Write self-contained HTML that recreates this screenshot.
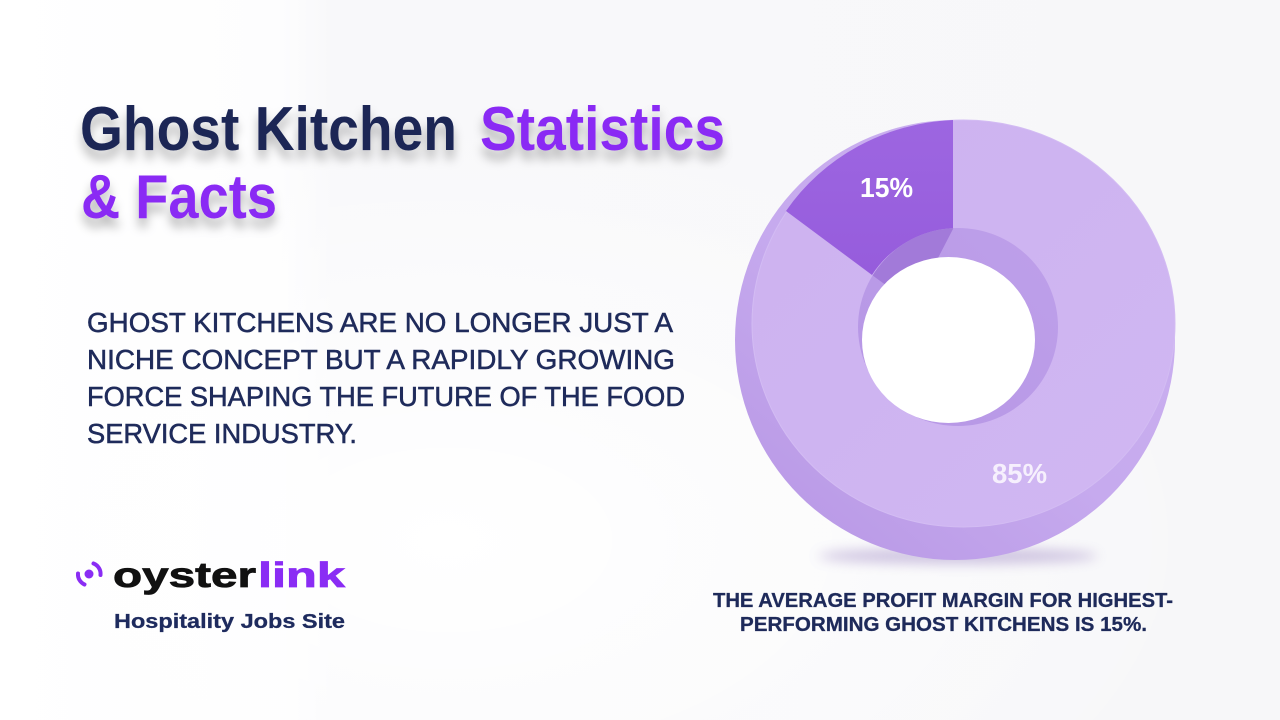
<!DOCTYPE html>
<html>
<head>
<meta charset="utf-8">
<style>
html,body{margin:0;padding:0;width:1280px;height:720px;overflow:hidden;background:#f8f8fa;}
svg{display:block;}
text{font-family:"Liberation Sans",Arial,sans-serif;}
</style>
</head>
<body>
<svg width="1280" height="720" viewBox="0 0 1280 720" xmlns="http://www.w3.org/2000/svg">
  <defs>
    <linearGradient id="bg" x1="0" y1="0" x2="1" y2="0">
      <stop offset="0" stop-color="#ffffff"/>
      <stop offset="0.22" stop-color="#fdfdfe"/>
      <stop offset="0.26" stop-color="#f8f8fa"/>
      <stop offset="1" stop-color="#f7f7f9"/>
    </linearGradient>
    <radialGradient id="glow" cx="0.35" cy="0.75" r="0.6">
      <stop offset="0" stop-color="#ffffff" stop-opacity="1"/>
      <stop offset="1" stop-color="#ffffff" stop-opacity="0"/>
    </radialGradient>
    <linearGradient id="side" x1="1" y1="0" x2="0.2" y2="1">
      <stop offset="0" stop-color="#ccb2f0"/>
      <stop offset="0.6" stop-color="#c6aaee"/>
      <stop offset="1" stop-color="#b999e6"/>
    </linearGradient>
    <linearGradient id="face" x1="0" y1="0" x2="1" y2="1">
      <stop offset="0" stop-color="#cdb2f0"/>
      <stop offset="1" stop-color="#d0b7f2"/>
    </linearGradient>
    <linearGradient id="wall" x1="1" y1="0" x2="0" y2="1">
      <stop offset="0" stop-color="#bea0ea"/>
      <stop offset="1" stop-color="#b696e5"/>
    </linearGradient>
    <linearGradient id="wedge" x1="0" y1="0" x2="0" y2="1">
      <stop offset="0" stop-color="#9d66e1"/>
      <stop offset="1" stop-color="#965cdc"/>
    </linearGradient>
    <filter id="tshadow" x="-10%" y="-30%" width="120%" height="180%">
      <feDropShadow dx="0" dy="9" stdDeviation="5" flood-color="#000" flood-opacity="0.28"/>
    </filter>
    <filter id="blur8" x="-50%" y="-200%" width="200%" height="500%">
      <feGaussianBlur stdDeviation="6"/>
    </filter>
    <clipPath id="wallclip">
      <ellipse cx="958" cy="327" rx="100" ry="99"/>
    </clipPath>
  </defs>

  <rect x="0" y="0" width="1280" height="720" fill="url(#bg)"/>
  <rect x="0" y="0" width="1280" height="720" fill="url(#glow)"/>

  <!-- Title -->
  <g filter="url(#tshadow)" font-weight="bold" font-size="62">
    <text x="80" y="150" fill="#1b2655" textLength="377" lengthAdjust="spacingAndGlyphs">Ghost Kitchen</text>
    <text x="480" y="150" fill="#8a2cf4" textLength="245" lengthAdjust="spacingAndGlyphs">Statistics</text>
    <text x="81" y="218" fill="#8a2cf4" textLength="196" lengthAdjust="spacingAndGlyphs">&amp; Facts</text>
  </g>

  <!-- Body text -->
  <g fill="#1f2b5b" stroke="#1f2b5b" stroke-width="0.55" font-size="28">
    <text x="87" y="332" textLength="586" lengthAdjust="spacingAndGlyphs">GHOST KITCHENS ARE NO LONGER JUST A</text>
    <text x="87" y="369" textLength="588" lengthAdjust="spacingAndGlyphs">NICHE CONCEPT BUT A RAPIDLY GROWING</text>
    <text x="87" y="406" textLength="598" lengthAdjust="spacingAndGlyphs">FORCE SHAPING THE FUTURE OF THE FOOD</text>
    <text x="87" y="443" textLength="270" lengthAdjust="spacingAndGlyphs">SERVICE INDUSTRY.</text>
  </g>

  <!-- Logo -->
  <g>
    <circle cx="89" cy="574" r="4.5" fill="#8a2cf4"/>
    <path d="M 93.5 563.5 A 11 11 0 0 1 100.5 575" fill="none" stroke="#8a2cf4" stroke-width="4" stroke-linecap="round"/>
    <path d="M 84.5 584.5 A 11 11 0 0 1 78 573.5" fill="none" stroke="#8a2cf4" stroke-width="4" stroke-linecap="round"/>
    <text x="113" y="587" font-size="35" font-weight="bold" fill="#111111" stroke="#111111" stroke-width="0.8" textLength="143" lengthAdjust="spacingAndGlyphs">oyster</text>
    <text x="258" y="587" font-size="35" font-weight="bold" fill="#8a2cf4" stroke="#8a2cf4" stroke-width="0.8" textLength="87" lengthAdjust="spacingAndGlyphs">link</text>
    <text x="114" y="628" font-size="20" font-weight="bold" fill="#1e2b5e" stroke="#1e2b5e" stroke-width="0.3" textLength="231" lengthAdjust="spacingAndGlyphs">Hospitality Jobs Site</text>
  </g>

  <!-- Donut shadow -->
  <ellipse cx="958" cy="556" rx="140" ry="8" fill="#8a70b8" opacity="0.4" filter="url(#blur8)"/>

  <!-- Donut back/side -->
  <ellipse cx="955" cy="340" rx="220" ry="220" fill="url(#side)"/>
  <!-- Donut face -->
  <ellipse cx="963.5" cy="323.5" rx="211.5" ry="203.5" fill="url(#face)" stroke="#d3bcf3" stroke-width="1"/>
  <!-- Wedge 15% -->
  <path d="M 953 120 A 211.5 203.5 0 0 0 786 211 L 872 275 A 100 99 0 0 1 953 229 Z" fill="url(#wedge)"/>
  <!-- Inner wall -->
  <ellipse cx="958" cy="327" rx="100" ry="99" fill="url(#wall)"/>
  <polygon points="960,195 953,229 938,258 905,299 872,275 835,195" fill="#a27ad9" clip-path="url(#wallclip)"/>
  <!-- Hole -->
  <ellipse cx="948.5" cy="340" rx="86.5" ry="83" fill="#ffffff"/>

  <!-- Labels -->
  <text x="860" y="197" font-size="28" font-weight="bold" fill="#ffffff" textLength="53" lengthAdjust="spacingAndGlyphs">15%</text>
  <text x="992" y="483" font-size="28" font-weight="bold" fill="#f6f0fd" textLength="55" lengthAdjust="spacingAndGlyphs">85%</text>

  <!-- Bottom caption -->
  <g font-size="20" font-weight="bold" fill="#1e2a5a" stroke="#1e2a5a" stroke-width="0.3">
    <text x="713" y="607" textLength="460" lengthAdjust="spacingAndGlyphs">THE AVERAGE PROFIT MARGIN FOR HIGHEST-</text>
    <text x="740" y="631" textLength="407" lengthAdjust="spacingAndGlyphs">PERFORMING GHOST KITCHENS IS 15%.</text>
  </g>
</svg>
</body>
</html>
